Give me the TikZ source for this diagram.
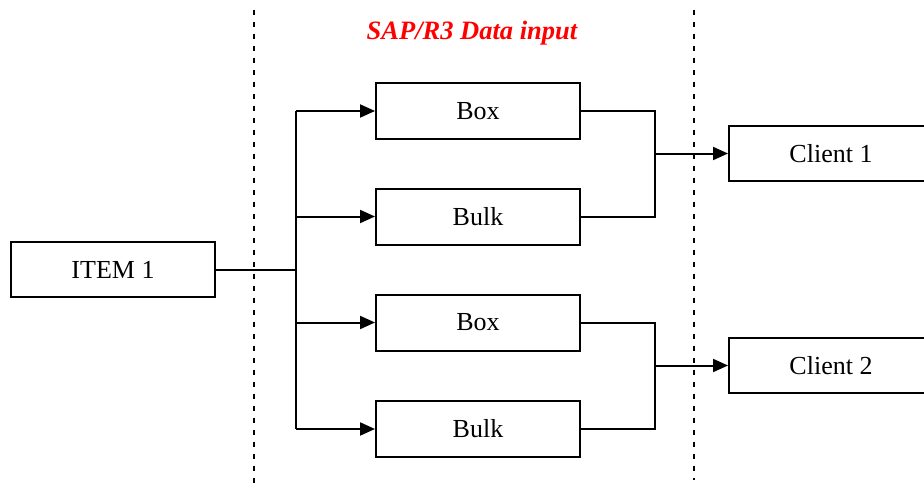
\documentclass[tikz,border=0pt]{standalone}
\usepackage{fontspec}
\setmainfont{Liberation Serif}
\usetikzlibrary{arrows.meta}
\begin{document}
\begin{tikzpicture}[x=1pt,y=-1pt,
  box/.style={draw=black,line width=2pt,minimum width=204pt,minimum height=56pt,
    inner sep=0pt,font=\fontsize{26}{31}\selectfont},
  wire/.style={line width=2pt},
  feed/.style={line width=2pt,-{Triangle[length=15pt,width=13pt]}},
  divider/.style={line width=2pt,dash pattern=on 5pt off 7pt}]
\useasboundingbox (0,0) rectangle (924,487);
\clip (0,0) rectangle (924,487);

% section dividers and heading
\draw[divider] (254,10) -- (254,490);
\draw[divider] (694,10) -- (694,480);
\node[text=red,font=\fontsize{26.5}{31}\selectfont\bfseries\itshape] (title) at (472,33) {SAP/R3 Data input};

% boxes
\node[box,minimum height=55pt] (item) at (113,269.5) {ITEM 1};
\node[box] (box1) at (478,111) {Box};
\node[box] (bulk1) at (478,216.5) {Bulk};
\node[box] (box2) at (478,322.5) {Box};
\node[box] (bulk2) at (478,429) {Bulk};
\node[box,minimum height=55pt] (client1) at (831,153.5) {Client 1};
\node[box,minimum height=55pt] (client2) at (831,365.5) {Client 2};

% split from the item to the four inputs
\coordinate (split) at (296,269.5);
\draw[wire] (item.east) -- (split);
\draw[wire] (split |- box1.west) -- (split |- bulk2.west);
\draw[feed] (split |- box1.west) -- (box1.west);
\draw[feed] (split |- bulk1.west) -- (bulk1.west);
\draw[feed] (split |- box2.west) -- (box2.west);
\draw[feed] (split |- bulk2.west) -- (bulk2.west);

% merges into the clients
\coordinate (merge) at (655,0);
\draw[wire] (box1.east) -- (box1.east -| merge) -- (bulk1.east -| merge) -- (bulk1.east);
\draw[feed] (merge |- client1.west) -- (client1.west);
\draw[wire] (box2.east) -- (box2.east -| merge) -- (bulk2.east -| merge) -- (bulk2.east);
\draw[feed] (merge |- client2.west) -- (client2.west);
\end{tikzpicture}
\end{document}
